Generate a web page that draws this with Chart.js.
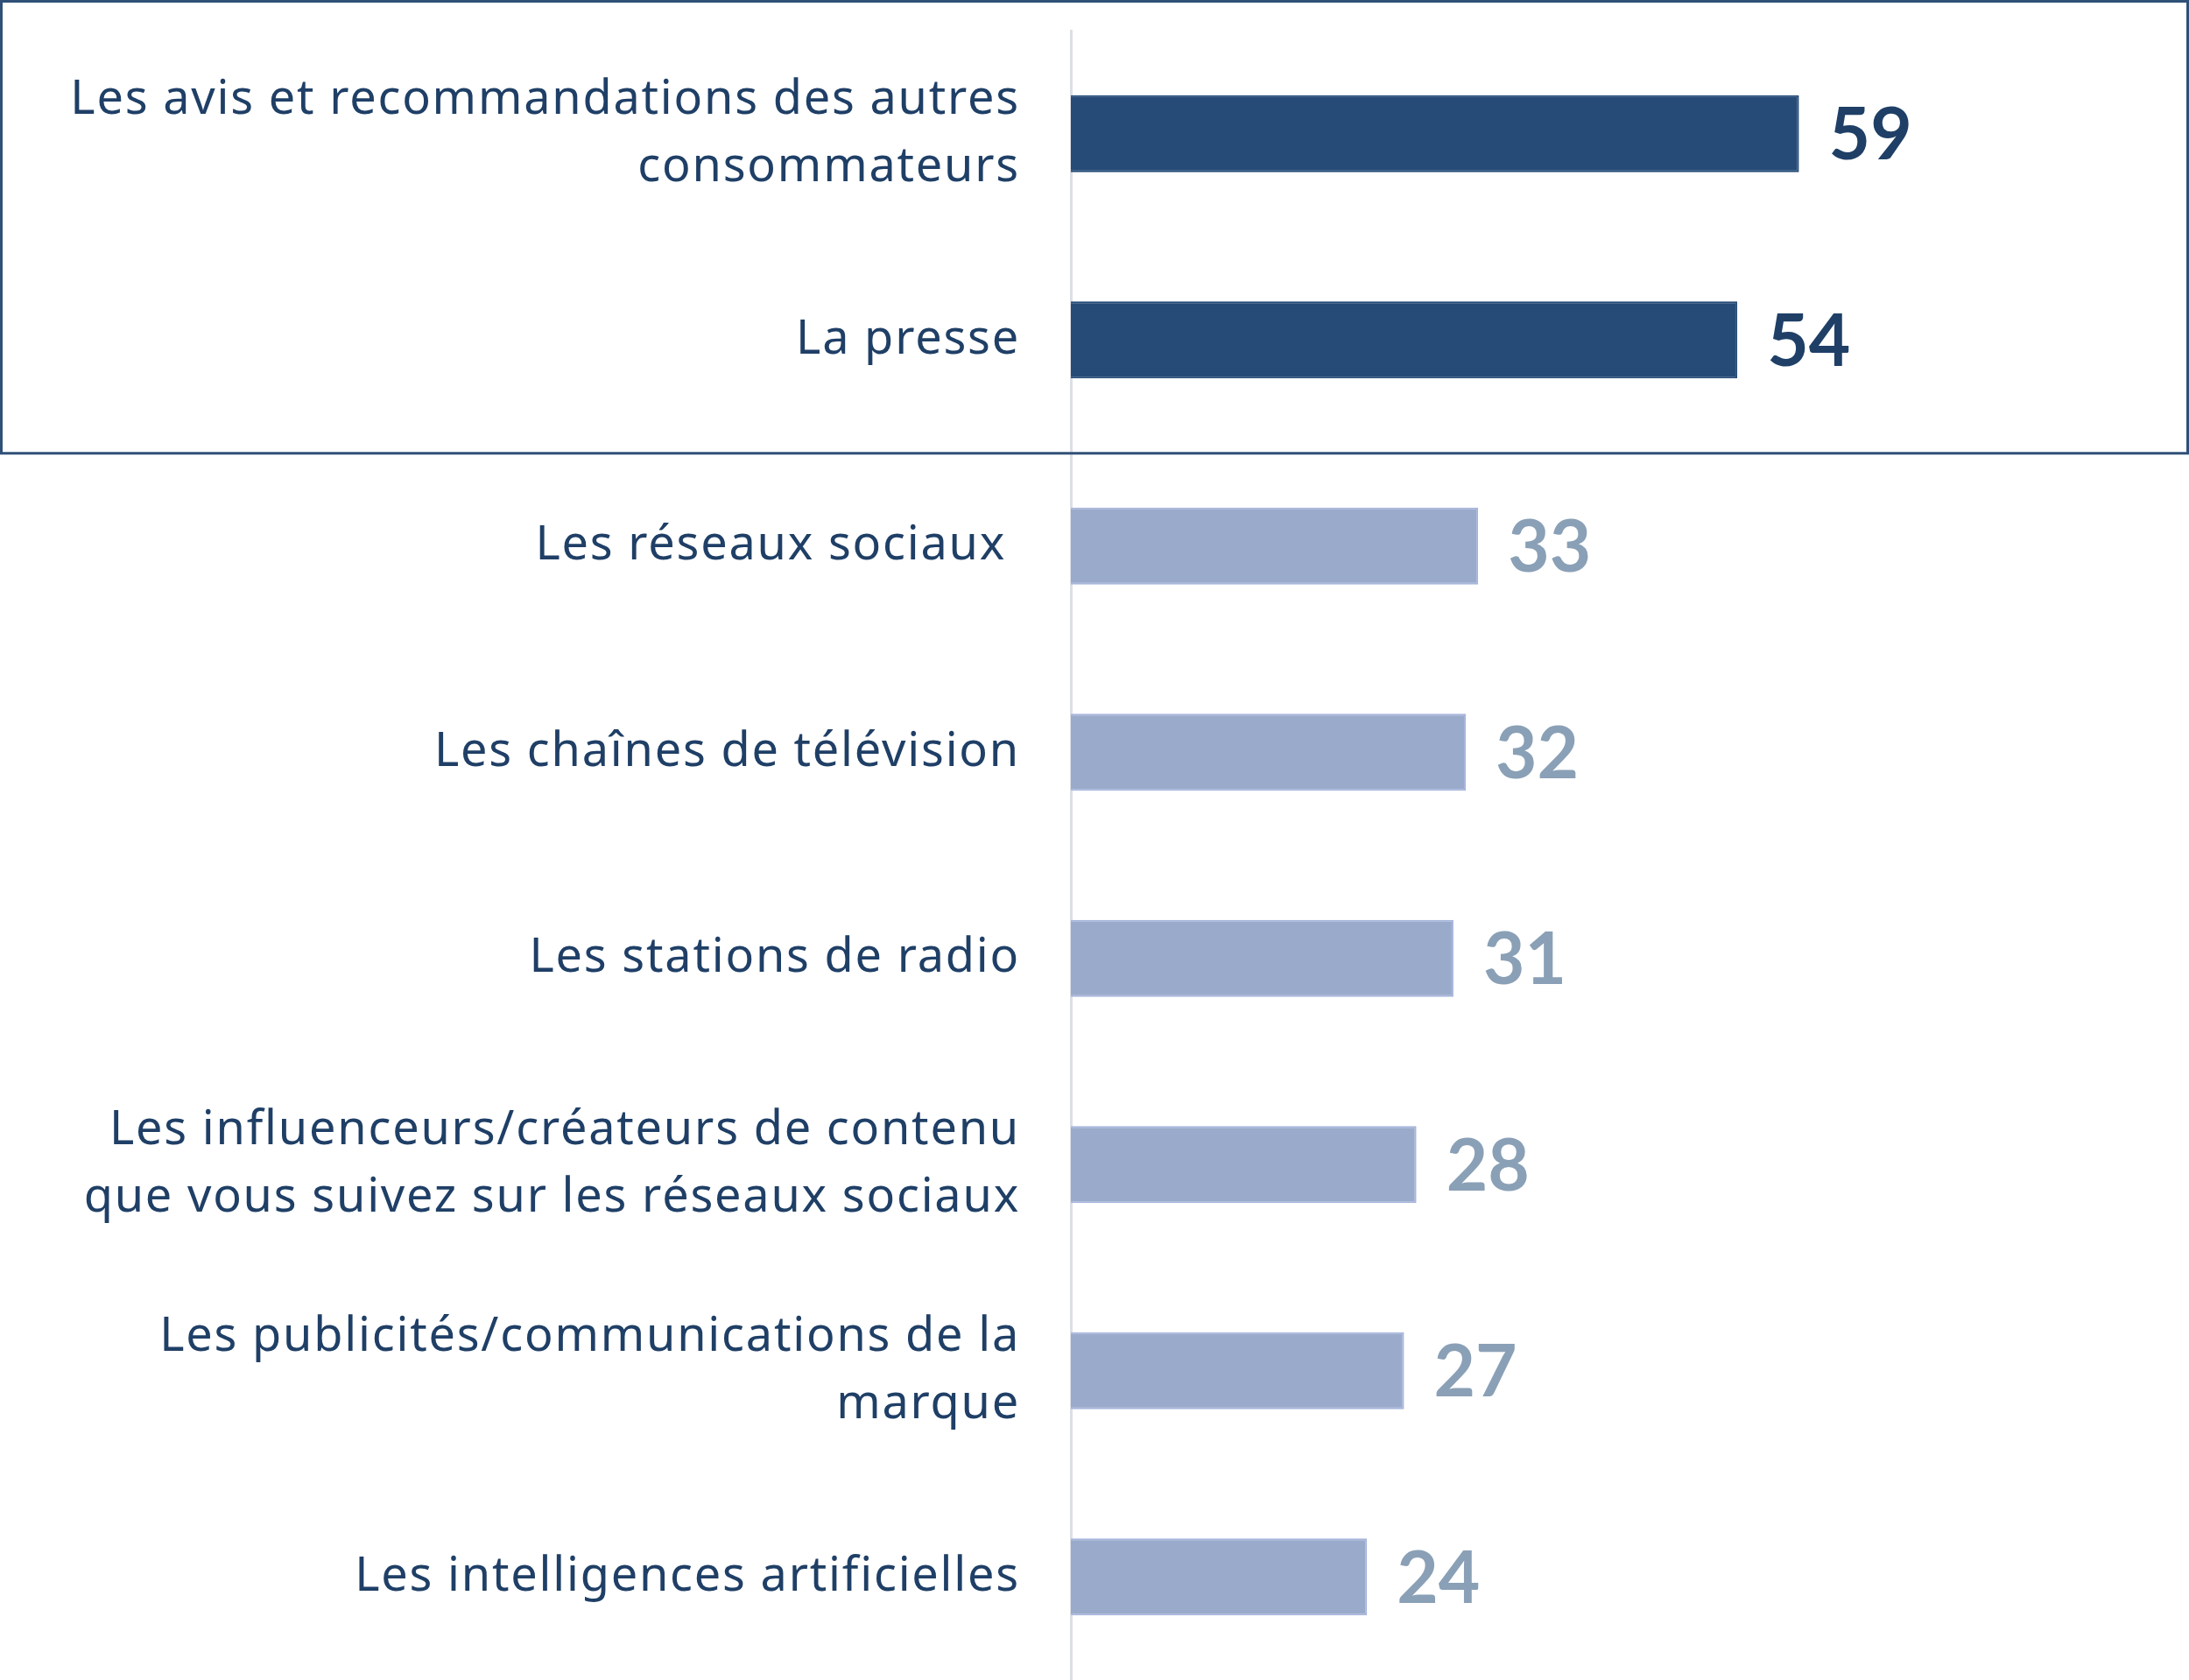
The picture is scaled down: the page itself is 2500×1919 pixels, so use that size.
<!DOCTYPE html>
<html>
<head>
<meta charset="utf-8">
<script src="https://cdn.jsdelivr.net/npm/chart.js@4"></script>
<style>
  html, body { margin: 0; padding: 0; background: #fff; }
  #wrap { width: 2500px; height: 1919px; position: relative; }
</style>
</head>
<body>
<div id="wrap"><canvas id="c"></canvas></div>
<script>
// Catégories (axe Y) et valeurs en %
const categories = [
    ['Les avis et recommandations des autres', 'consommateurs'],
    'La presse',
    'Les réseaux sociaux ',
    'Les chaînes de télévision',
    'Les stations de radio',
    ['Les influenceurs/créateurs de contenu', 'que vous suivez sur les réseaux sociaux'],
    ['Les publicités/communications de la', 'marque'],
    'Les intelligences artificielles'
];
const values = [59, 54, 33, 32, 31, 28, 27, 24];
const highlighted = 2; // les deux premières barres sont mises en avant

const darkBar = '#264b77';
const lightBar = '#9aaacb';
const darkText = '#1f3f66';
const lightText = '#8aa0b6';

// Espacement des lettres un peu plus large (police d'origine plus large)
// (le redimensionnement du canvas remet l'état à zéro, donc on le remet avant layout et dessin)
const letterSpacing = {
    id: 'letterSpacing',
    beforeLayout(chart) { chart.ctx.letterSpacing = '1.8px'; },
    beforeDraw(chart) { chart.ctx.letterSpacing = '1.8px'; }
};

// Étiquettes de valeur au bout des barres
const valueLabels = {
    id: 'valueLabels',
    afterDatasetsDraw(chart) {
        const ctx = chart.ctx;
        const meta = chart.getDatasetMeta(0);
        ctx.save();
        ctx.letterSpacing = '0px';
        ctx.font = 'bold 82px Lato';
        ctx.textBaseline = 'middle';
        ctx.textAlign = 'left';
        meta.data.forEach((bar, i) => {
            ctx.fillStyle = i < highlighted ? darkText : lightText;
            ctx.fillText(String(values[i]), bar.x + 34, bar.y + 3);
        });
        ctx.restore();
    }
};

// Cadre autour des catégories mises en avant
const highlightBox = {
    id: 'highlightBox',
    afterDraw(chart) {
        const y = chart.scales.y;
        const bottom = y.getPixelForValue(highlighted - 0.45);
        const ctx = chart.ctx;
        ctx.save();
        ctx.strokeStyle = '#2f5077';
        ctx.lineWidth = 3;
        ctx.strokeRect(1.5, 1.5, chart.width - 3, bottom - 1.5);
        ctx.restore();
    }
};

new Chart(document.getElementById('c'), {
    type: 'bar',
    data: {
        labels: categories,
        datasets: [{
            data: values,
            backgroundColor: values.map((v, i) => i < highlighted ? darkBar : lightBar),
            borderColor: values.map((v, i) => i < highlighted ? darkBar : '#a6b5dc'),
            borderWidth: 2,
            barPercentage: 0.374,
            categoryPercentage: 1
        }]
    },
    options: {
        indexAxis: 'y',
        responsive: true,
        maintainAspectRatio: false,
        animation: false,
        layout: { padding: { top: 35, right: 0, bottom: 0, left: 0 } },
        plugins: {
            legend: { display: false },
            tooltip: { enabled: false }
        },
        scales: {
            x: {
                display: false,
                min: 0,
                max: 90.6
            },
            y: {
                afterFit(scale) {
                    scale.width = 1223;
                    scale.paddingTop = 0;
                    scale.paddingBottom = 0;
                },
                grid: { display: false, drawTicks: false },
                border: { display: true, color: '#dcdfe6', width: 3 },
                ticks: {
                    padding: 58,
                    color: darkText,
                    font: { family: 'Noto Sans', size: 54, lineHeight: 1.43 }
                }
            }
        }
    },
    plugins: [letterSpacing, valueLabels, highlightBox]
});
</script>
</body>
</html>
